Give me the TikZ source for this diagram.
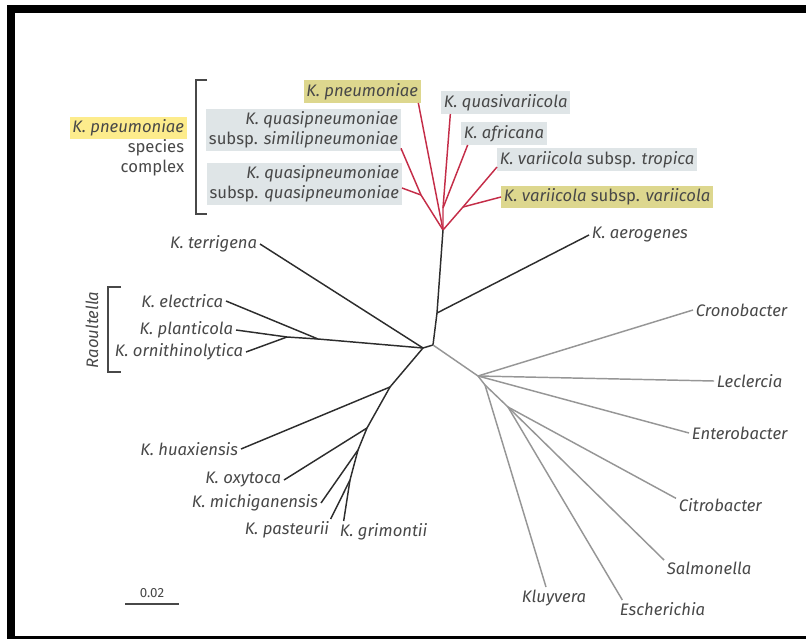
\documentclass[tikz,border=0pt]{standalone}
\usepackage{fontspec}
\setmainfont{Fira Sans}
\usepackage{tikz}
\usetikzlibrary{positioning}
\definecolor{cladered}{RGB}{196,45,72}
\definecolor{boxgray}{RGB}{223,229,231}
\definecolor{boxolive}{RGB}{221,215,142}
\definecolor{hilite}{RGB}{253,236,140}
\definecolor{txtgray}{RGB}{72,72,72}
\definecolor{branchblk}{RGB}{45,45,45}
\definecolor{branchgray}{RGB}{150,150,150}
\newcommand{\spc}[1]{\textit{#1}}

\begin{document}
\begin{tikzpicture}[x=0.75pt, y=-0.75pt,
  lbl/.style={font=\fontsize{12.5}{15}\selectfont, text=txtgray, inner sep=2pt},
  gbox/.style={lbl, fill=boxgray, minimum height=17pt},
  obox/.style={lbl, fill=boxolive, minimum height=17pt},
  redbr/.style={draw=cladered, line width=1.1pt},
  blkbr/.style={draw=branchblk, line width=1.1pt},
  grybr/.style={draw=branchgray, line width=1.1pt},
  brk/.style={draw=txtgray, line width=1.5pt}]
  \useasboundingbox (0,0) rectangle (806,639);
  \fill (7,5) rectangle (806,13); \fill (7,5) rectangle (15,639); \fill (7,636) rectangle (806,639);

  % K. pneumoniae species complex
  \node[obox, anchor=south east] (kpn) at (421,103) {\spc{K. pneumoniae}};
  \node[gbox, anchor=south west] (qvar) at (441,114) {\spc{K. quasivariicola}};
  \node[gbox, anchor=south west] (afr) at (461,145) {\spc{K. africana}};
  \node[gbox, anchor=south west] (trop) at (497,171) {\spc{K. variicola} subsp. \spc{tropica}};
  \node[obox, anchor=west] (vvar) at (501,197) {\spc{K. variicola} subsp. \spc{variicola}};
  \node[gbox, anchor=south east, align=right] (simi) at (401,151) {\spc{K. quasipneumoniae}\\subsp. \spc{similipneumoniae}};
  \node[gbox, anchor=east, align=right] (qpn) at (402,184) {\spc{K. quasipneumoniae}\\subsp. \spc{quasipneumoniae}};
  \coordinate (rc) at (443,230); \coordinate (ra) at (443,208);
  \coordinate (rt) at (463,207); \coordinate (rq) at (421,195);
  \draw[redbr] (rc) -- ([xshift=-2pt]kpn.south east);
  \draw[redbr] (rc) -- (ra) -- ([xshift=7pt]qvar.south west);
  \draw[redbr] (ra) -- ([xshift=5pt]afr.south west);
  \draw[redbr] (rc) -- (rt) -- ([yshift=3pt]trop.south west);
  \draw[redbr] (rt) -- (vvar.west);
  \draw[redbr] (rc) -- (rq) -- ([yshift=2pt]simi.south east);
  \draw[redbr] (rq) -- ([yshift=-3pt]qpn.east);

  \node[lbl, fill=hilite, anchor=east] (lkpn) at (187,128) {\spc{K. pneumoniae}};
  \node[lbl, align=right, below=-2pt of lkpn.south east, anchor=north east] (cplx) {species\\complex};
  \draw[brk] (207,80) -- (196,80) -- (196,214) -- (207,214);

  % Klebsiella
  \coordinate (kc) at (437,313); \coordinate (root) at (433,345);
  \coordinate (kl) at (423,348); \coordinate (kr) at (318,339); \coordinate (kp) at (287,337);
  \coordinate (kh) at (390,387); \coordinate (ko) at (367,428);
  \coordinate (km) at (358,450); \coordinate (kg) at (350,480);
  \node[lbl, anchor=west] (aer) at (589,235) {\spc{K. aerogenes}};
  \node[lbl, anchor=east] (terr) at (260,244) {\spc{K. terrigena}};
  \node[lbl, anchor=east] (ele) at (226,301) {\spc{K. electrica}};
  \node[lbl, anchor=east] (pla) at (236,330) {\spc{K. planticola}};
  \node[lbl, anchor=east] (orn) at (246,352) {\spc{K. ornithinolytica}};
  \node[lbl, anchor=east] (hua) at (241,449) {\spc{K. huaxiensis}};
  \node[lbl, anchor=east] (oxy) at (284,480) {\spc{K. oxytoca}};
  \node[lbl, anchor=east] (mich) at (321,503) {\spc{K. michiganensis}};
  \node[lbl, anchor=north east] (past) at (332,519) {\spc{K. pasteurii}};
  \node[lbl, anchor=north west] (grim) at (337,521) {\spc{K. grimontii}};
  \draw[blkbr] (rc) -- (kc) -- (root) -- (kl);
  \draw[blkbr] (kc) -- (aer.west);
  \draw[blkbr] (kl) -- (terr.east);
  \draw[blkbr] (kl) -- (kr) -- (kp);
  \draw[blkbr] (kr) -- (ele.east); \draw[blkbr] (kp) -- (pla.east); \draw[blkbr] (kp) -- (orn.east);
  \draw[blkbr] (kl) -- (kh) -- (ko) -- (km) -- (kg);
  \draw[blkbr] (kh) -- (hua.east); \draw[blkbr] (ko) -- (oxy.east); \draw[blkbr] (km) -- (mich.east);
  \draw[blkbr] (kg) -- ([xshift=-1pt]past.north east); \draw[blkbr] (kg) -- ([xshift=5pt]grim.north west);

  \node[lbl, rotate=90] (raou) at (92,330) {\spc{Raoultella}};
  \draw[brk] (121,287) -- (108,287) -- (108,372) -- (121,372);

  % other Enterobacteriaceae
  \coordinate (gh) at (478,376); \coordinate (gk) at (485,385); \coordinate (gs) at (508,407);
  \node[lbl, anchor=west] (cro) at (693,310) {\spc{Cronobacter}};
  \node[lbl, anchor=west] (lec) at (714,381) {\spc{Leclercia}};
  \node[lbl, anchor=west] (ent) at (689,433) {\spc{Enterobacter}};
  \node[lbl, anchor=west] (cit) at (676,505) {\spc{Citrobacter}};
  \node[lbl, anchor=west] (sal) at (664,568) {\spc{Salmonella}};
  \node[lbl, anchor=north] (kluy) at (554,587) {\spc{Kluyvera}};
  \node[lbl, anchor=north west] (esc) at (617,600) {\spc{Escherichia}};
  \draw[grybr] (root) -- (gh) -- (gk) -- (gs);
  \draw[grybr] (gh) -- (cro.west); \draw[grybr] (gh) -- (lec.west); \draw[grybr] (gh) -- (ent.west);
  \draw[grybr] (gk) -- ([xshift=-6pt]kluy.north);
  \draw[grybr] (gs) -- ([yshift=5pt]cit.west); \draw[grybr] (gs) -- ([yshift=6pt]sal.west);
  \draw[grybr] (gs) -- ([xshift=4pt]esc.north west);

  \node[lbl, font=\fontsize{10}{12}\selectfont] (sbar) at (152,593) {0.02};
  \draw[draw=txtgray, line width=1.6pt] (125,604) -- (179,604);
\end{tikzpicture}
\end{document}
